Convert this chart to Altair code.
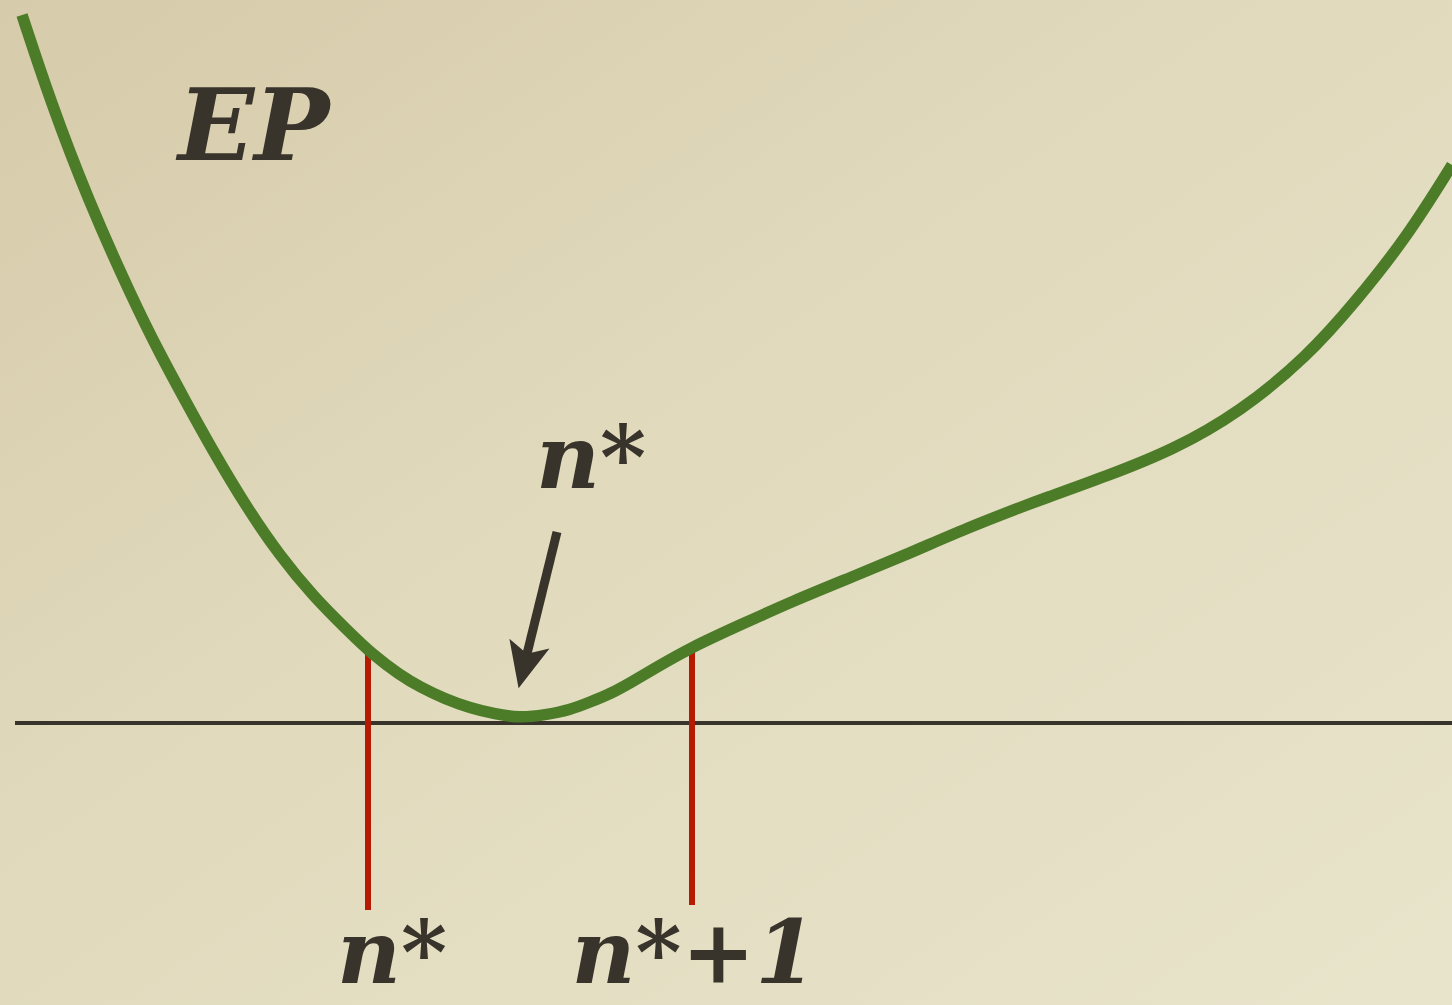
import altair as alt
import pandas as pd

W, H = 1452, 1005

# Energy-penalty curve: n position and EP height above the axis
curve_n = [22, 50, 88, 133, 160, 186, 213, 247, 280, 313, 347, 373, 400, 420,
           445, 470, 495, 520, 545, 570, 590, 610, 630, 657, 690, 740, 793,
           852, 910, 967, 1024, 1040, 1107, 1173, 1240, 1307, 1357, 1407, 1452]
curve_row = [15, 100, 200, 300, 354, 402, 451, 508, 556, 596, 630, 655, 675, 687,
             699, 708, 714, 718, 715, 710, 702, 694, 683, 667, 648, 625, 601,
             577, 553, 528, 506, 500, 476, 450, 412, 357, 300, 237, 165]
AXIS_ROW = 723
curve_ep = [AXIS_ROW - r for r in curve_row]

# Red markers at n* and n*+1
marker_n = [368, 692]
marker_top = [AXIS_ROW - 652, AXIS_ROW - 648]
marker_bottom = [AXIS_ROW - 910, AXIS_ROW - 905]

# Arrow pointing at the minimum
arrow_start = (557, AXIS_ROW - 532)
arrow_end = (524, AXIS_ROW - 666)
arrow_angle = 13.7

# Title label (left aligned) and point labels (centred)
title_text = ["EP"]
title_n = [178]
title_ep = [AXIS_ROW - 160]
label_text = ["n*", "n*", "n*+1"]
label_n = [591, 392, 694]
label_ep = [AXIS_ROW - 488, AXIS_ROW - 983, AXIS_ROW - 983]

X_DOM = [0, W]
Y_DOM = [AXIS_ROW - H, AXIS_ROW]

INK = "#38332B"
GREEN = "#4D7C29"
RED = "#B71A02"
FONT = "DejaVu Serif"

xs = alt.Scale(domain=X_DOM, nice=False, zero=False)
ys = alt.Scale(domain=Y_DOM, nice=False, zero=False)

curve_df = pd.DataFrame({"n": curve_n, "ep": curve_ep})
marker_df = pd.DataFrame({"n": marker_n, "top": marker_top, "bottom": marker_bottom})
arrow_df = pd.DataFrame({"n": [arrow_start[0]], "ep": [arrow_start[1]],
                         "n2": [arrow_end[0]], "ep2": [arrow_end[1]]})
head_df = pd.DataFrame({"n": [arrow_end[0]], "ep": [arrow_end[1]]})
title_df = pd.DataFrame({"text": title_text, "n": title_n, "ep": title_ep})
label_df = pd.DataFrame({"text": label_text, "n": label_n, "ep": label_ep})
axis_df = pd.DataFrame({"n": [15], "n2": [W], "ep": [0]})
bg_df = pd.DataFrame({"k": [0]})

paper = alt.Chart(bg_df).mark_rect(
    color=alt.LinearGradient(
        gradient="linear", x1=0, y1=0, x2=1, y2=1,
        stops=[alt.GradientStop(offset=0, color="#D6CBAA"),
               alt.GradientStop(offset=0.45, color="#E1DABD"),
               alt.GradientStop(offset=1, color="#E8E4CB")],
    )
).encode(x=alt.value(0), x2=alt.value(W), y=alt.value(0), y2=alt.value(H))

axis_line = alt.Chart(axis_df).mark_rule(color=INK, strokeWidth=4).encode(
    x=alt.X("n:Q", scale=xs, axis=None),
    x2="n2:Q",
    y=alt.Y("ep:Q", scale=ys, axis=None),
)

markers = alt.Chart(marker_df).mark_rule(color=RED, strokeWidth=6).encode(
    x=alt.X("n:Q", scale=xs, axis=None),
    y=alt.Y("top:Q", scale=ys, axis=None),
    y2="bottom:Q",
)

curve = alt.Chart(curve_df).mark_line(
    color=GREEN, strokeWidth=11.5, interpolate="basis", strokeCap="butt"
).encode(
    x=alt.X("n:Q", scale=xs, axis=None),
    y=alt.Y("ep:Q", scale=ys, axis=None),
    order="n:Q",
)

shaft = alt.Chart(arrow_df).mark_rule(color=INK, strokeWidth=9).encode(
    x=alt.X("n:Q", scale=xs, axis=None),
    x2="n2:Q",
    y=alt.Y("ep:Q", scale=ys, axis=None),
    y2="ep2:Q",
)

head = alt.Chart(head_df).mark_point(
    shape="M0,1 L-0.9,-1 L0,-0.55 L0.9,-1 Z",
    filled=True, fill=INK, strokeWidth=0, opacity=1,
    size=2100, angle=arrow_angle,
).encode(
    x=alt.X("n:Q", scale=xs, axis=None),
    y=alt.Y("ep:Q", scale=ys, axis=None),
)

text_style = dict(font=FONT, fontWeight="bold", fontStyle="italic",
                  baseline="alphabetic", color=INK)

title = alt.Chart(title_df).mark_text(align="left", fontSize=100, **text_style).encode(
    x=alt.X("n:Q", scale=xs, axis=None),
    y=alt.Y("ep:Q", scale=ys, axis=None),
    text="text:N",
)

labels = alt.Chart(label_df).mark_text(align="center", fontSize=88, **text_style).encode(
    x=alt.X("n:Q", scale=xs, axis=None),
    y=alt.Y("ep:Q", scale=ys, axis=None),
    text="text:N",
)

chart = alt.layer(paper, axis_line, markers, curve, shaft, head, title, labels).properties(
    width=W, height=H, padding=0, background="#E2DBBE",
    autosize=alt.AutoSizeParams(type="none"),
).configure_view(stroke=None)

chart.save("out.html", embed_options={"renderer": "svg", "actions": False})
